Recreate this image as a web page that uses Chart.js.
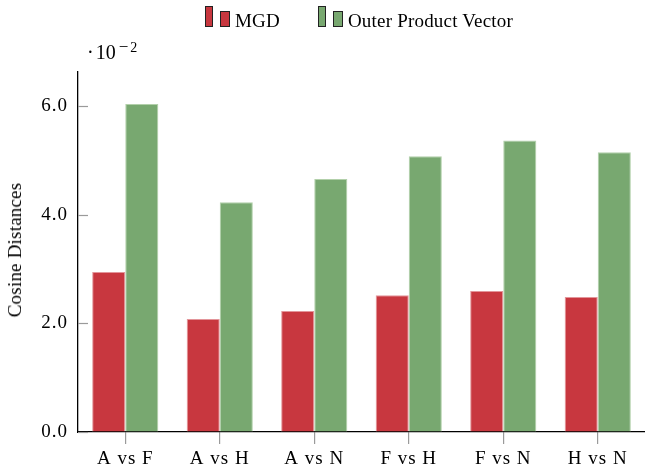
<!DOCTYPE html>
<html>
<head>
<meta charset="utf-8">
<script src="https://cdn.jsdelivr.net/npm/chart.js@4"></script>
<style>
  html, body { margin: 0; padding: 0; background: #fff; overflow: hidden; }
  #wrap { position: relative; width: 645px; height: 472px; font-family: "Liberation Serif", "DejaVu Serif", serif; color: #000; }
  #wrap canvas { position: absolute; left: 0; top: 0; }
  .legend { position: absolute; top: 6px; left: 205px; font-size: 19px; line-height: 24px; white-space: nowrap; letter-spacing: 0.2px; }
  .legend .bar { display: inline-block; vertical-align: baseline; border: 1px solid #222; }
  .exp { position: absolute; left: 87px; top: 40px; font-size: 20px; line-height: 24px; white-space: nowrap; }
  .exp .dot { margin-right: 2px; }
  .exp .sup { font-size: 14px; position: relative; top: -7px; margin-left: 3px; }
  .exp .minus { font-size: 17px; margin-right: 2px; }
  .ytitle { position: absolute; left: 14.5px; top: 250px; font-size: 19px; line-height: 24px; transform: translate(-50%, -50%) rotate(-90deg); white-space: nowrap; letter-spacing: 0.2px; }
</style>
</head>
<body>
<div id="wrap">
  <canvas id="chart"></canvas>
  <div class="legend" id="legend"></div>
  <div class="exp"><span class="dot">&middot;</span>10<span class="sup"><span class="minus">&minus;</span>2</span></div>
  <div class="ytitle">Cosine Distances</div>
</div>
<script>
// data (values in raw units, axis shows x10^-2)
const categories = ['A vs F', 'A vs H', 'A vs N', 'F vs H', 'F vs N', 'H vs N'];
const mgd = [0.02945, 0.0208, 0.0223, 0.0252, 0.02595, 0.02485];
const outerProduct = [0.0604, 0.0423, 0.0466, 0.0508, 0.0537, 0.0515];
const yTicks = [0, 0.02, 0.04, 0.06];
const seriesNames = ['MGD', 'Outer Product Vector'];

const COLORS = {
  red: '#c8373f',
  redEdge: '#e3959a',
  green: '#78a870',
  greenEdge: '#b2d0aa',
  tick: '#9a9a9a',
};

const FONT = '"Liberation Serif", "DejaVu Serif", serif';

// legend in html, pgfplots style two-bar icon
const legendEl = document.getElementById('legend');
const legendColors = [COLORS.red, COLORS.green];
seriesNames.forEach((name, i) => {
  const col = legendColors[i];
  const last = i === seriesNames.length - 1;
  legendEl.innerHTML +=
    '<span class="bar" style="width:6px;height:19px;margin-right:7px;background:' + col + '"></span>' +
    '<span class="bar" style="width:8px;height:14px;margin-right:5px;background:' + col + '"></span>' +
    '<span style="margin-right:' + (last ? 0 : 38) + 'px">' + name + '</span>';
});

// short inward tick marks on the y axis + wider letter spacing for the CM look
const axisExtras = {
  id: 'axisExtras',
  beforeDraw(chart) {
    chart.ctx.letterSpacing = '1px';
  },
  afterDraw(chart) {
    const y = chart.scales.y;
    const ctx = chart.ctx;
    ctx.save();
    ctx.strokeStyle = COLORS.tick;
    ctx.lineWidth = 1.2;
    y.ticks.forEach(t => {
      const py = Math.round(y.getPixelForValue(t.value)) + 0.5;
      ctx.beginPath();
      ctx.moveTo(y.right, py);
      ctx.lineTo(y.right + 10, py);
      ctx.stroke();
    });
    ctx.restore();
  },
};

const canvas = document.getElementById('chart');
canvas.width = 645;
canvas.height = 472;

new Chart(canvas, {
  type: 'bar',
  data: {
    labels: categories,
    datasets: [
      {
        label: seriesNames[0],
        data: mgd,
        backgroundColor: COLORS.red,
        borderColor: COLORS.redEdge,
        borderWidth: 1,
      },
      {
        label: seriesNames[1],
        data: outerProduct,
        backgroundColor: COLORS.green,
        borderColor: COLORS.greenEdge,
        borderWidth: 1,
      },
    ],
  },
  options: {
    responsive: false,
    animation: false,
    layout: { padding: { top: 72, right: 0, bottom: 0, left: 0 } },
    plugins: {
      legend: { display: false },
      tooltip: { enabled: false },
    },
    datasets: {
      bar: { categoryPercentage: 0.7, barPercentage: 1.0 },
    },
    scales: {
      x: {
        offset: true,
        grid: { offset: false, drawOnChartArea: false, drawTicks: true, tickLength: 12, color: COLORS.tick, lineWidth: 1.2 },
        border: { display: true, color: '#000', width: 1.3 },
        ticks: { color: '#000', font: { family: FONT, size: 19 }, padding: 4, maxRotation: 0 },
        afterFit: (s) => { s.height = 40; },
      },
      y: {
        min: 0,
        max: 0.0663,
        grid: { drawOnChartArea: false, drawTicks: false },
        border: { display: true, color: '#000', width: 1.3 },
        ticks: {
          color: '#000',
          font: { family: FONT, size: 19 },
          padding: 10,
          callback: (v) => (v * 100).toFixed(1),
        },
        afterBuildTicks: (s) => { s.ticks = yTicks.map(v => ({ value: v })); },
        afterFit: (s) => { s.width = 78; },
      },
    },
  },
  plugins: [axisExtras],
});
</script>
</body>
</html>
